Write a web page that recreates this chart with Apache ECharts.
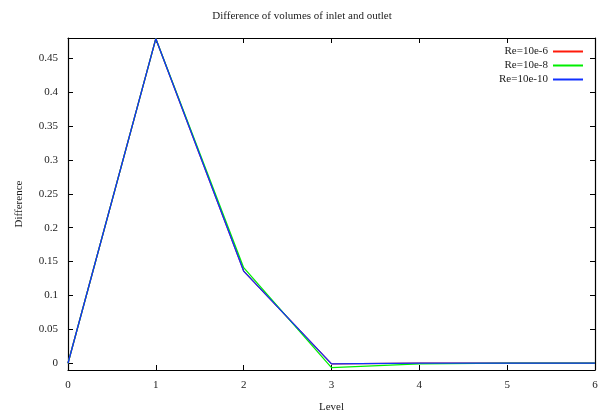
<!DOCTYPE html>
<html>
<head>
<meta charset="utf-8">
<script src="https://cdn.jsdelivr.net/npm/echarts@6/dist/echarts.min.js"></script>
<style>
  html, body { margin: 0; padding: 0; background: #fff; }
  #chart { width: 604px; height: 416px; }
</style>
</head>
<body>
<div id="chart"></div>
<script>
var levels = [0, 1, 2, 3, 4, 5, 6];
var re6 = [0, 0.479, 0.136, -0.001, 0, 0, 0];
var re8 = [0, 0.479, 0.141, -0.0065, -0.001, 0, 0];
var re10 = [0, 0.479, 0.136, -0.001, 0, 0, 0];
var seriesNames = ['Re=10e-6', 'Re=10e-8', 'Re=10e-10'];
var seriesColors = ['#ff1a0a', '#00ee00', '#1030ff'];
var yTicks = [0, 0.05, 0.1, 0.15, 0.2, 0.25, 0.3, 0.35, 0.4, 0.45];

function pairs(vals) {
    return levels.map(function (x, i) { return [x, vals[i]]; });
}

var font = 'Liberation Serif, Times New Roman, serif';
var myChart = echarts.init(document.getElementById('chart'));

var tickStyle = { show: true, inside: true, length: 5, lineStyle: { color: '#000', width: 1 } };
var lineStyle = { show: true, onZero: false, lineStyle: { color: '#000', width: 1.2 } };

myChart.setOption({
    animation: false,
    backgroundColor: '#fff',
    title: {
        text: 'Difference of volumes of inlet and outlet',
        left: 'center',
        top: 6,
        textStyle: { fontFamily: font, fontSize: 11, fontWeight: 'normal', color: '#222' }
    },
    legend: {
        orient: 'vertical',
        right: 16,
        top: 41,
        align: 'right',
        itemGap: 3,
        itemWidth: 30,
        itemHeight: 2,
        icon: 'rect',
        textStyle: { fontFamily: font, fontSize: 11, color: '#222' },
        data: seriesNames
    },
    grid: { left: 68, right: 9, top: 38, bottom: 46, outerBoundsMode: 'none' },
    xAxis: [{
        type: 'value',
        min: 0, max: 6, interval: 1,
        name: 'Level',
        nameLocation: 'middle',
        nameGap: 32,
        nameTextStyle: { fontFamily: font, fontSize: 11, color: '#222' },
        axisLine: lineStyle,
        axisTick: tickStyle,
        axisLabel: { fontFamily: font, fontSize: 11, color: '#222', margin: 10 },
        splitLine: { show: false }
    }, {
        type: 'value',
        position: 'top',
        min: 0, max: 6, interval: 1,
        axisLine: lineStyle,
        axisTick: tickStyle,
        axisLabel: { show: false },
        splitLine: { show: false }
    }],
    yAxis: [{
        type: 'value',
        min: -0.01, max: 0.48,
        name: 'Difference',
        nameLocation: 'middle',
        nameGap: 43,
        nameTextStyle: { fontFamily: font, fontSize: 11, color: '#222' },
        axisLine: lineStyle,
        axisTick: Object.assign({}, tickStyle, { customValues: yTicks }),
        axisLabel: {
            fontFamily: font, fontSize: 11, color: '#222', margin: 10,
            customValues: yTicks,
            formatter: function (v) { return String(+v.toFixed(2)); }
        },
        splitLine: { show: false }
    }, {
        type: 'value',
        position: 'right',
        min: -0.01, max: 0.48,
        axisLine: lineStyle,
        axisTick: Object.assign({}, tickStyle, { customValues: yTicks }),
        axisLabel: { show: false },
        splitLine: { show: false }
    }],
    series: [re6, re8, re10].map(function (vals, i) {
        return {
            name: seriesNames[i],
            type: 'line',
            data: pairs(vals),
            symbol: 'none',
            color: seriesColors[i],
            lineStyle: { width: 1.3, color: seriesColors[i] }
        };
    })
});
</script>
</body>
</html>
